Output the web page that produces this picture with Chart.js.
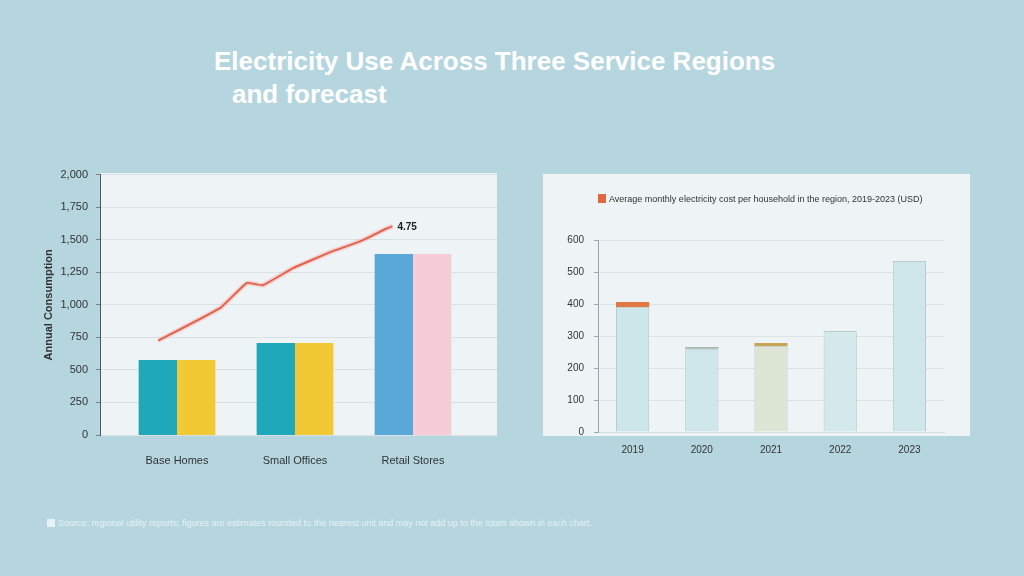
<!DOCTYPE html>
<html>
<head>
<meta charset="utf-8">
<script src="https://cdn.jsdelivr.net/npm/chart.js@4.4.1/dist/chart.umd.min.js"></script>
<style>
  body { margin: 0; background: #b5d6df; font-family: "Liberation Sans", Arial, sans-serif; }
  #page { position: relative; width: 1024px; height: 576px; overflow: hidden; background: #b5d6df; }
  .title { position: absolute; color: #ffffff; font-weight: bold; font-size: 26px; white-space: nowrap; }
  .panel { position: absolute; background: #eef3f5; }
  .box { position: absolute; }
  #note { position: absolute; left: 47px; top: 518px; color: #e6f1f4; font-size: 9px; white-space: nowrap; }
  #note span { display: inline-block; width: 8px; height: 8px; background: #e6f1f4; margin-right: 3px; vertical-align: -1px; }
  #rightLegend { position: absolute; left: 598px; top: 194px; color: #333; font-size: 9px; white-space: nowrap; }
  #rightLegend span { display: inline-block; width: 8px; height: 9px; background: #e0673f; margin-right: 3px; vertical-align: -1px; }
</style>
</head>
<body>
<div id="page">
  <div class="title" style="left:214px; top:46px;">Electricity Use Across Three Service Regions</div>
  <div class="title" style="left:232px; top:79px;">and forecast</div>

  <div class="panel" style="left:100px; top:173px; width:397px; height:262px;"></div>
  <div class="panel" style="left:543px; top:174px; width:427px; height:262px;"></div>

  <div class="box" style="left:20px; top:160px; width:490px; height:320px;">
    <canvas id="leftBase"></canvas>
  </div>
  <div class="box" style="left:20px; top:160px; width:490px; height:320px;">
    <canvas id="leftBars"></canvas>
  </div>
  <div class="box" style="left:530px; top:170px; width:450px; height:300px;">
    <canvas id="rightChart"></canvas>
  </div>

  <div id="rightLegend"><span></span>Average monthly electricity cost per household in the region, 2019-2023 (USD)</div>
  <div id="note"><span></span>Source: regional utility reports; figures are estimates rounded to the nearest unit and may not add up to the totals shown in each chart.</div>
</div>

<script>
// left chart data
const leftCategories = ["Base Homes", "Small Offices", "Retail Stores"];
const leftSeriesA = [573, 702, 1382];
const leftSeriesB = [573, 702, 1382];
const leftTicks = [0, 250, 500, 750, 1000, 1250, 1500, 1750, 2000];
// trend line, x measured across the plot panel (0..3)
const trendX = [0.44, 0.91, 1.11, 1.23, 1.46, 1.76, 1.97, 2.17, 2.21];
const trendY = [725, 977, 1168, 1150, 1282, 1412, 1489, 1588, 1603];
const trendLabel = "4.75";

// right chart data
const rightCategories = ["2019", "2020", "2021", "2022", "2023"];
const rightBody = [390, 260, 268, 316, 534];
const rightCap = [16, 6, 10, 0, 0];
const rightTicks = [0, 100, 200, 300, 400, 500, 600];

const FONT = "'Liberation Sans', Arial, sans-serif";

// value label at the end of the trend line
const endLabel = {
    id: "endLabel",
    afterDatasetsDraw(chart) {
        const meta = chart.getDatasetMeta(0);
        const last = meta.data[meta.data.length - 1];
        if (!last) return;
        const ctx = chart.ctx;
        ctx.save();
        ctx.font = "bold 10px " + FONT;
        ctx.fillStyle = "#222";
        ctx.textBaseline = "middle";
        ctx.fillText(trendLabel, last.x + 5, last.y + 1);
        ctx.restore();
    }
};

const trendPoints = trendX.map((x, i) => ({ x: x, y: trendY[i] }));

// back layer: grid, y axis and trend line
new Chart(document.getElementById("leftBase").getContext("2d"), {
    type: "line",
    data: {
        datasets: [
            {
                label: "Trend",
                data: trendPoints,
                borderColor: "#e3634a",
                borderWidth: 2,
                pointRadius: 0,
                tension: 0.1,
                order: 1
            },
            {
                label: "Trend glow",
                data: trendPoints,
                borderColor: "rgba(244,170,170,0.45)",
                borderWidth: 5,
                pointRadius: 0,
                tension: 0.1,
                order: 2
            }
        ]
    },
    options: {
        responsive: true,
        maintainAspectRatio: false,
        animation: false,
        layout: { padding: { top: 13, right: 13, left: 0, bottom: 45 } },
        scales: {
            x: { type: "linear", min: 0, max: 3, display: false },
            y: {
                min: 0,
                max: 2000,
                afterBuildTicks: (s) => { s.ticks = leftTicks.map(v => ({ value: v })); },
                grid: { color: "#d9e1e5", tickColor: "#7a8589", tickLength: 4 },
                border: { display: true, color: "#555" },
                ticks: { color: "#333", font: { family: FONT, size: 11 }, padding: 8 },
                title: {
                    display: true,
                    text: "Annual Consumption",
                    color: "#333",
                    font: { family: FONT, size: 11, weight: "bold" },
                    padding: { top: 22, bottom: 0 }
                },
                afterFit: (s) => { s.width = 80; }
            }
        },
        plugins: {
            legend: { display: false },
            tooltip: { enabled: false }
        }
    },
    plugins: [endLabel]
});

// front layer: bars and category labels
new Chart(document.getElementById("leftBars").getContext("2d"), {
    type: "bar",
    data: {
        labels: leftCategories,
        datasets: [
            {
                label: "Series A",
                data: leftSeriesA,
                backgroundColor: ["#1ea8b9", "#1ea8b9", "#58a8d8"]
            },
            {
                label: "Series B",
                data: leftSeriesB,
                backgroundColor: ["#f1c935", "#f1c935", "#f4cdd6"]
            }
        ]
    },
    options: {
        responsive: true,
        maintainAspectRatio: false,
        animation: false,
        layout: { padding: { top: 13, right: 38, left: 98, bottom: 0 } },
        datasets: { bar: { barPercentage: 1, categoryPercentage: 0.65 } },
        scales: {
            x: {
                grid: { display: false, drawTicks: false },
                border: { display: false },
                ticks: { color: "#333", font: { family: FONT, size: 11 }, padding: 19 },
                afterFit: (s) => { s.height = 45; }
            },
            y: { min: 0, max: 2000, display: false }
        },
        plugins: {
            legend: { display: false },
            tooltip: { enabled: false }
        }
    }
});

new Chart(document.getElementById("rightChart").getContext("2d"), {
    type: "bar",
    data: {
        labels: rightCategories,
        datasets: [
            {
                label: "Cost",
                data: rightBody,
                backgroundColor: ["#cde6ea", "#cfe6ea", "#dde6d4", "#d3e9ec", "#cfe7ea"],
                borderColor: "#b7cccd",
                borderWidth: 1,
                stack: "s"
            },
            {
                label: "Change",
                data: rightCap,
                backgroundColor: ["#e07a45", "#a9b5ad", "#c9a656", "#cfd8d8", "#cfd8d8"],
                borderWidth: 0,
                stack: "s"
            }
        ]
    },
    options: {
        responsive: true,
        maintainAspectRatio: false,
        animation: false,
        layout: { padding: { top: 70, right: 36, left: 0, bottom: 0 } },
        datasets: { bar: { barPercentage: 0.48, categoryPercentage: 1 } },
        scales: {
            x: {
                stacked: true,
                grid: { display: false, drawTicks: false },
                border: { display: true, color: "#d5dde0" },
                ticks: { color: "#333", font: { family: FONT, size: 10 }, padding: 12 },
                afterFit: (s) => { s.height = 38; }
            },
            y: {
                stacked: true,
                min: 0,
                max: 600,
                afterBuildTicks: (s) => { s.ticks = rightTicks.map(v => ({ value: v })); },
                grid: { color: "#dbe3e6", tickColor: "#9aa6aa", tickLength: 4 },
                border: { display: true, color: "#9aa6aa" },
                ticks: { color: "#333", font: { family: FONT, size: 10 }, padding: 10 },
                afterFit: (s) => { s.width = 68; }
            }
        },
        plugins: {
            legend: { display: false },
            tooltip: { enabled: false }
        }
    }
});
</script>
</body>
</html>
